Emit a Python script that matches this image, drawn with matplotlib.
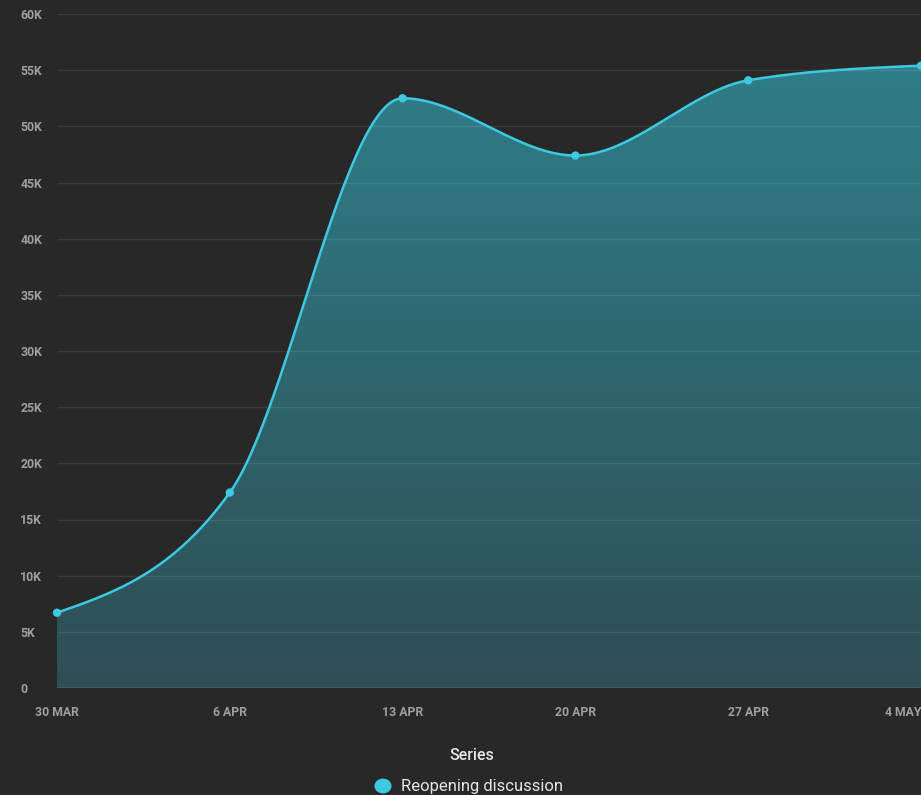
import numpy as np
import matplotlib
matplotlib.use("Agg")
import matplotlib.pyplot as plt
from matplotlib.colors import LinearSegmentedColormap

# data
dates = ["30 MAR", "6 APR", "13 APR", "20 APR", "27 APR", "4 MAY"]
values = [6700, 17400, 52500, 47400, 54100, 55400]
y_ticks = [0, 5000, 10000, 15000, 20000, 25000, 30000, 35000, 40000, 45000, 50000, 55000, 60000]
y_labels = ["0", "5K", "10K", "15K", "20K", "25K", "30K", "35K", "40K", "45K", "50K", "55K", "60K"]
series_name = "Reopening discussion"

bg = "#282828"
line_col = "#3ec9e2"
tick_col = "#a0a0a0"


def monotone_curve(x, y, n=60):
    # monotone cubic (d3 curveMonotoneX style)
    x = np.asarray(x, float)
    y = np.asarray(y, float)
    h = np.diff(x)
    s = np.diff(y) / h
    m = np.zeros_like(y)
    for i in range(1, len(y) - 1):
        p = (s[i - 1] * h[i] + s[i] * h[i - 1]) / (h[i - 1] + h[i])
        m[i] = (np.sign(s[i - 1]) + np.sign(s[i])) * min(abs(s[i - 1]), abs(s[i]), 0.5 * abs(p))
    m[0] = (3 * s[0] - m[1]) / 2
    m[-1] = (3 * s[-1] - m[-2]) / 2
    xs, ys = [], []
    for i in range(len(h)):
        t = np.linspace(0, 1, n)
        h00 = 2 * t**3 - 3 * t**2 + 1
        h10 = t**3 - 2 * t**2 + t
        h01 = -2 * t**3 + 3 * t**2
        h11 = t**3 - t**2
        xs.append(x[i] + t * h[i])
        ys.append(h00 * y[i] + h10 * h[i] * m[i] + h01 * y[i + 1] + h11 * h[i] * m[i + 1])
    return np.concatenate(xs), np.concatenate(ys)


fig = plt.figure(figsize=(9.21, 7.95), dpi=100, facecolor=bg)
ax = fig.add_axes([57 / 921, 1 - 688 / 795, 1 - 57 / 921, (688 - 14) / 795])
ax.set_facecolor(bg)

xi = np.arange(len(values))
cx, cy = monotone_curve(xi, values)

poly = ax.fill_between(cx, 0, cy, facecolor="none", edgecolor="none")
cmap = LinearSegmentedColormap.from_list("fill", ["#2e4e54", "#2f7e89"])
grad = np.linspace(0, 1, 256).reshape(-1, 1)
im = ax.imshow(grad, cmap=cmap, origin="lower", aspect="auto",
               extent=[0, len(values) - 1, 0, 56000], zorder=1)
im.set_clip_path(poly.get_paths()[0], transform=ax.transData)

ax.plot(cx, cy, color=line_col, lw=1.8, zorder=4, clip_on=False)
ax.scatter(xi, values, s=36, color=line_col, zorder=5, clip_on=False, edgecolors="none")

ax.set_xlim(0, len(values) - 1)
ax.set_ylim(0, 60000)
ax.set_yticks(y_ticks)
ax.set_yticklabels(y_labels)
ax.set_xticks(xi)
ax.set_xticklabels(dates)
ax.grid(axis="y", color="white", alpha=0.09, lw=1, zorder=3)
ax.set_axisbelow(False)
for sp in ax.spines.values():
    sp.set_visible(False)
ax.axhline(0, color="white", alpha=0.08, lw=1.5, zorder=3)

ax.tick_params(axis="both", length=0, colors=tick_col, labelsize=8.8)
ax.tick_params(axis="y", pad=26.5)
ax.tick_params(axis="x", pad=13)
for lab in ax.get_yticklabels():
    lab.set_ha("left")
    lab.set_fontweight("bold")
    lab.set_fontfamily("Roboto")
for lab in ax.get_xticklabels():
    lab.set_fontweight("bold")
    lab.set_fontfamily("Roboto")
ax.get_xticklabels()[-1].set_ha("right")

# legend
fig.text(472 / 921, 1 - 755 / 795, "Series", color="#e6e6e6", fontsize=11.5,
         fontweight="medium", family="Roboto", ha="center", va="center")
fig.patches.append(plt.Circle((383 / 921, 1 - 786 / 795), 0.0085, transform=fig.transFigure,
                              color=line_col, figure=fig))
fig.text(401 / 921, 1 - 786 / 795, series_name, color="#e6e6e6", fontsize=12,
         family="Roboto", ha="left", va="center")

fig.savefig("out.png", dpi=100, facecolor=bg)
